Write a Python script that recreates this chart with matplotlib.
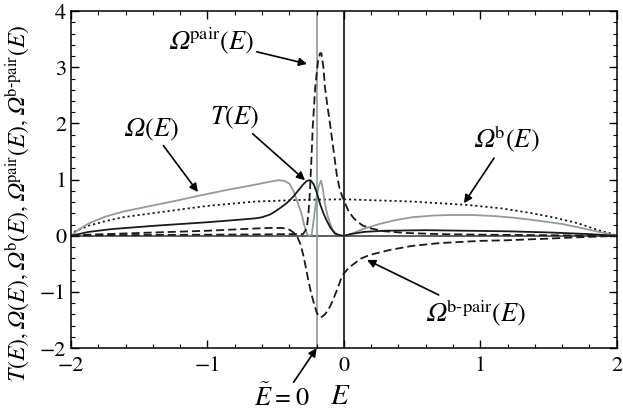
import numpy as np
import matplotlib
matplotlib.use('Agg')
import matplotlib.pyplot as plt

plt.rcParams['font.family'] = ['STIXGeneral', 'DejaVu Serif']
# italic Greek capitals: 'rm' slot points to the italic face, 'sf' is the upright one
plt.rcParams['mathtext.fontset'] = 'custom'
plt.rcParams['mathtext.rm'] = 'STIXGeneral:italic'
plt.rcParams['mathtext.it'] = 'STIXGeneral:italic'
plt.rcParams['mathtext.sf'] = 'STIXGeneral'

# Omega(E), grey solid
E_om = [-2, -1.95, -1.87, -1.75, -1.62, -1.5, -1.38, -1.2, -1.05, -0.85, -0.65, -0.55,
        -0.48, -0.44, -0.4, -0.37, -0.34, -0.31, -0.29, -0.27, -0.255, -0.236, -0.225,
        -0.21, -0.2, -0.185, -0.168, -0.155, -0.139, -0.12, -0.1, -0.08, -0.053, -0.02,
        0.0, 0.05, 0.14, 0.26, 0.38, 0.5, 0.65, 0.77, 0.95, 1.11, 1.25, 1.36, 1.48, 1.6,
        1.72, 1.85, 1.93, 2.0]
om = [0, 0.1, 0.22, 0.34, 0.43, 0.49, 0.55, 0.64, 0.72, 0.82, 0.91, 0.96,
      0.99, 0.98, 0.93, 0.8, 0.6, 0.39, 0.18, 0.03, 0.0, 0.02, 0.22,
      0.5, 0.68, 0.88, 0.98, 0.85, 0.57, 0.36, 0.21, 0.1, 0.03, 0.0,
      0.0, 0.03, 0.12, 0.21, 0.28, 0.33, 0.36, 0.37, 0.37, 0.35, 0.32, 0.29, 0.25, 0.21,
      0.15, 0.08, 0.04, 0.0]

# T(E), black solid
E_T = [-2, -1.87, -1.7, -1.38, -1.01, -0.8, -0.65, -0.6, -0.54, -0.5, -0.47, -0.42,
       -0.37, -0.33, -0.3, -0.275, -0.255, -0.24, -0.22, -0.2, -0.175, -0.15, -0.126,
       -0.1, -0.066, -0.03, 0, 0.05, 0.15, 0.3, 0.6, 0.9, 1.2, 1.5, 1.8, 2]
T = [0, 0.07, 0.12, 0.18, 0.24, 0.28, 0.31, 0.33, 0.38, 0.44, 0.49, 0.58,
     0.7, 0.82, 0.91, 0.97, 0.99, 0.98, 0.91, 0.78, 0.57, 0.4, 0.27,
     0.15, 0.04, 0.01, 0, 0.03, 0.07, 0.09, 0.1, 0.09, 0.08, 0.06, 0.03, 0]

# Omega^b(E), dotted
E_b = [-2, -1.97, -1.87, -1.75, -1.62, -1.38, -1.01, -0.65, -0.3, 0, 0.5, 0.9, 1.15,
       1.36, 1.55, 1.72, 1.89, 1.96, 2]
om_b = [0, 0.08, 0.18, 0.26, 0.33, 0.41, 0.53, 0.61, 0.64, 0.65, 0.61, 0.55, 0.49,
        0.41, 0.32, 0.22, 0.08, 0.04, 0]

# Omega^pair(E), dashed
E_p = [-2, -1.8, -1.0, -0.6, -0.4, -0.3, -0.28, -0.27, -0.26, -0.25, -0.24, -0.228,
       -0.21, -0.19, -0.175, -0.165, -0.15, -0.139, -0.12, -0.102, -0.08, -0.053,
       -0.03, -0.015, 0.0, 0.03, 0.066, 0.1, 0.14, 0.2, 0.3, 0.46, 0.7, 1.0, 1.5, 2]
om_p = [0, 0.01, 0.02, 0.025, 0.03, 0.03, 0.1, 0.18, 0.4, 0.75, 1.25, 1.95,
        2.65, 3.1, 3.25, 3.25, 3.0, 2.65, 2.3, 2.0, 1.6, 1.1,
        0.82, 0.72, 0.63, 0.46, 0.33, 0.25, 0.18, 0.13, 0.08, 0.05, 0.03, 0.02, 0.01, 0]

# Omega^b-pair(E), dashed
E_bp = [-2, -1.87, -1.38, -1.0, -0.65, -0.54, -0.45, -0.4, -0.37, -0.345, -0.32, -0.3,
        -0.28, -0.26, -0.24, -0.22, -0.2, -0.185, -0.175, -0.16, -0.14, -0.117, -0.09,
        -0.053, -0.02, 0.0, 0.04, 0.09, 0.12, 0.19, 0.34, 0.5, 0.7, 1.0, 1.19, 1.5,
        1.67, 1.85, 2]
om_bp = [0, 0.02, 0.06, 0.09, 0.13, 0.14, 0.14, 0.11, 0.06, 0.0, -0.14, -0.32,
         -0.55, -0.8, -1.02, -1.2, -1.36, -1.43, -1.45, -1.44, -1.4, -1.33, -1.2,
         -0.98, -0.76, -0.67, -0.56, -0.47, -0.41, -0.34, -0.25, -0.18, -0.13, -0.09, -0.08, -0.05,
         -0.03, -0.015, 0]

x_ticks = [-2, -1, 0, 1, 2]
y_ticks = [-2, -1, 0, 1, 2, 3, 4]
E_tilde0 = -0.2
grey = '#8e9c9c'
ink = '#1a1a1a'


def fn(sym, sup=None):
    # f(E) with upright parentheses, roman superscript
    s = sym
    if sup:
        s += r'^{\mathsf{' + sup + '}}'
    return s + r'\mathsf{(}E\mathsf{)}'


fig = plt.figure(figsize=(6.23, 4.12), dpi=100)
ax = fig.add_axes([0.114, 0.155, 0.876, 0.818])

ax.axhline(0, color='#444444', lw=1.2, zorder=1)
ax.axvline(0, color='#333333', lw=1.4, zorder=1)
ax.axvline(E_tilde0, color=grey, lw=1.2, zorder=1)

ax.plot(E_b, om_b, color=ink, lw=1.3, linestyle=(0, (1.2, 1.6)))
ax.plot(E_om, om, color=grey, lw=1.3)
ax.plot(E_T, T, color=ink, lw=1.3)
ax.plot(E_p, om_p, color=ink, lw=1.3, linestyle=(0, (4.5, 2.2)))
ax.plot(E_bp, om_bp, color=ink, lw=1.3, linestyle=(0, (4.5, 2.2)))

ax.set_xlim(-2, 2)
ax.set_ylim(-2, 4)
ax.set_xticks(x_ticks)
ax.set_xticklabels([str(v).replace('-', '\u2212') for v in x_ticks])
ax.set_yticks(y_ticks)
ax.set_yticklabels([str(v).replace('-', '\u2212') for v in y_ticks])
ax.set_xticks(np.arange(-2, 2.01, 0.2), minor=True)
ax.set_yticks(np.arange(-2, 4.01, 0.2), minor=True)
ax.tick_params(which='both', direction='in', top=True, right=True, labelsize=16)
ax.tick_params(which='major', length=6, width=1)
ax.tick_params(axis='x', pad=6)
ax.tick_params(which='minor', length=3, width=0.8)
for s in ax.spines.values():
    s.set_linewidth(1.1)

hy = '\u2010'
comma = r'\mathsf{,}\;'
ylab = comma.join([fn('T'), fn(r'\Omega'), fn(r'\Omega', 'b'),
                   fn(r'\Omega', 'pair'), fn(r'\Omega', 'b' + hy + 'pair')])
ax.set_ylabel('$' + ylab + '$', fontsize=17)
ax.yaxis.set_label_coords(-0.072, 0.43)

arr = dict(arrowstyle='-|>', color='k', lw=1.2, mutation_scale=12, shrinkA=0, shrinkB=0)
fs = 19
ax.annotate('$' + fn(r'\Omega', 'pair') + '$', xy=(-0.27, 3.06), xytext=(-0.97, 3.47),
            fontsize=fs, ha='center', va='center', arrowprops=arr)
ax.annotate('$' + fn('T') + '$', xy=(-0.285, 0.99), xytext=(-0.8, 2.1),
            fontsize=fs, ha='center', va='center', arrowprops=arr)
ax.annotate('$' + fn(r'\Omega') + '$', xy=(-1.07, 0.78), xytext=(-1.41, 1.89),
            fontsize=fs, ha='center', va='center', arrowprops=arr)
ax.annotate('$' + fn(r'\Omega', 'b') + '$', xy=(0.88, 0.58), xytext=(1.19, 1.71),
            fontsize=fs, ha='center', va='center', arrowprops=arr)
ax.annotate('$' + fn(r'\Omega', 'b' + hy + 'pair') + '$', xy=(0.17, -0.43), xytext=(0.97, -1.38),
            fontsize=fs, ha='center', va='center', arrowprops=arr)
ax.annotate(r'$\tilde{E}=\mathsf{0}$', xy=(E_tilde0, -2.0), xytext=(-0.45, -2.9),
            fontsize=fs, ha='center', va='center', arrowprops=arr, annotation_clip=False)
ax.text(-0.03, -2.88, r'$E$', fontsize=21, ha='center', va='center')

fig.savefig('out.png', dpi=100)
